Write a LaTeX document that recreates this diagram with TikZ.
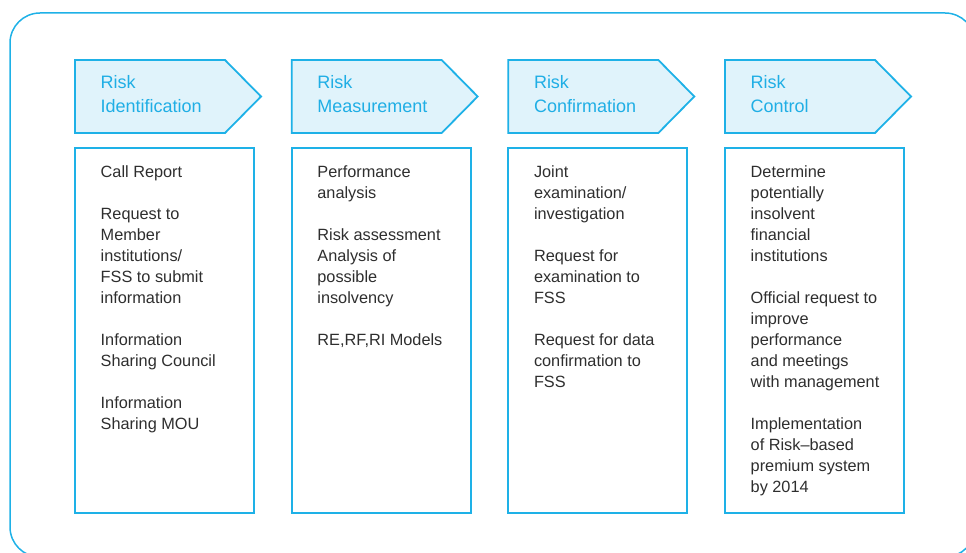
\documentclass[tikz,border=0pt]{standalone}
\usepackage{fontspec}
\setmainfont{Liberation Sans}
\definecolor{riskcyan}{HTML}{1EB1E7}
\definecolor{headfill}{HTML}{E0F3FB}
\definecolor{headtext}{HTML}{1FAEE5}
\definecolor{bodytext}{HTML}{2E2E2E}

\tikzset{
  frameline/.style={draw=riskcyan, line width=1.5bp, rounded corners=30bp},
  headshape/.style={draw=riskcyan, fill=headfill, line width=1.8bp},
  bodybox/.style={draw=riskcyan, line width=2bp},
  headlabel/.style={anchor=base west, inner sep=0pt, text=headtext,
    font=\fontsize{18bp}{24bp}\selectfont},
  bodylabel/.style={anchor=base west, inner sep=0pt, text=bodytext,
    font=\fontsize{16.3bp}{21bp}\selectfont},
}
% header arrow: left edge x, shoulder at +150, tip at +186
\newcommand\headarrow[1]{%
  \path[headshape] (#1,60) -- ++(150,0) -- ++(36,36.5) -- ++(-36,36.5) -- (#1,133) -- cycle;}
\newcommand\colbox[1]{\path[bodybox] (#1,148) rectangle ++(179,365);}

\begin{document}
\begin{tikzpicture}[x=1bp, y=-1bp]
\useasboundingbox (0,0) rectangle (966,553);

% outer rounded frame, running past the right and bottom edges
\begin{scope}
  \clip (0,0) rectangle (966,553);
  \path[frameline] (10,13) rectangle (975,557);
\end{scope}

% four stages
\headarrow{75}
\headarrow{291.67}
\headarrow{508.33}
\headarrow{725}
\colbox{75}
\colbox{291.67}
\colbox{508.33}
\colbox{725}

\node[headlabel] (h1) at (100.5,88.3) {\parbox[t]{150bp}{\raggedright Risk\\Identification}};
\node[headlabel] (h2) at (317.2,88.3) {\parbox[t]{150bp}{\raggedright Risk\\Measurement}};
\node[headlabel] (h3) at (533.8,88.3) {\parbox[t]{150bp}{\raggedright Risk\\Confirmation}};
\node[headlabel] (h4) at (750.5,88.3) {\parbox[t]{150bp}{\raggedright Risk\\Control}};

\node[bodylabel] (b1) at (100.5,177.5) {\parbox[t]{150bp}{\raggedright
  Call Report\\[21bp]
  Request to\\Member\\institutions/\\FSS to submit\\information\\[21bp]
  Information\\Sharing Council\\[21bp]
  Information\\Sharing MOU}};
\node[bodylabel] (b2) at (317.2,177.5) {\parbox[t]{150bp}{\raggedright
  Performance\\analysis\\[21bp]
  Risk assessment\\Analysis of\\possible\\insolvency\\[21bp]
  RE,RF,RI Models}};
\node[bodylabel] (b3) at (533.8,177.5) {\parbox[t]{150bp}{\raggedright
  Joint\\examination/\\investigation\\[21bp]
  Request for\\examination to\\FSS\\[21bp]
  Request for data\\confirmation to\\FSS}};
\node[bodylabel] (b4) at (750.5,177.5) {\parbox[t]{150bp}{\raggedright
  Determine\\potentially\\insolvent\\financial\\institutions\\[21bp]
  Official request to\\improve\\performance\\and meetings\\with management\\[21bp]
  Implementation\\of Risk–based\\premium system\\by 2014}};
\end{tikzpicture}
\end{document}
